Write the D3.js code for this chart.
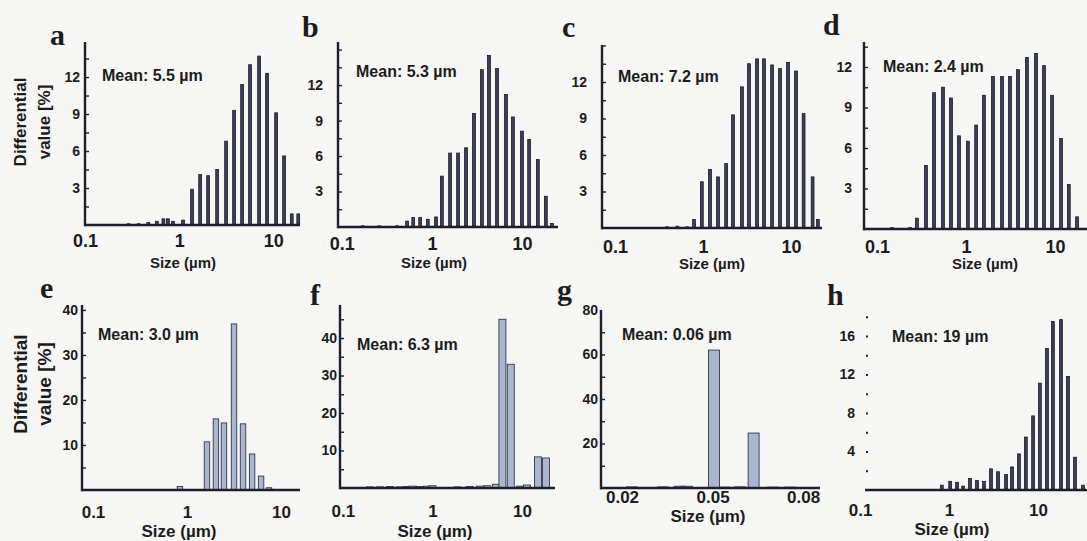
<!DOCTYPE html>
<html><head><meta charset="utf-8">
<script src="https://cdn.jsdelivr.net/npm/d3@7"></script>
<style>
html,body{margin:0;padding:0;background:#f6f6f5;}
svg{display:block;}
text{font-family:"Liberation Sans",Arial,sans-serif;font-weight:bold;fill:#1c1c1c;}
.letter{font-family:"Liberation Serif","Times New Roman",serif;font-weight:bold;}
</style></head><body>
<svg id="chart" width="1087" height="541"></svg>
<script>
// ---------- data ----------
const panelNames = ["a","b","c","d","e","f","g","h"];
const meanLabels = ["Mean: 5.5 µm","Mean: 5.3 µm","Mean: 7.2 µm","Mean: 2.4 µm",
                    "Mean: 3.0 µm","Mean: 6.3 µm","Mean: 0.06 µm","Mean: 19 µm"];
const yLabelLines = ["Differential","value [%]"];
const xLabel = "Size (µm)";

const aSizes  = [0.29,0.37,0.47,0.58,0.68,0.76,0.86,1.10,1.37,1.67,2.03,2.53,3.15,3.83,4.66,5.66,7.06,8.58,10.7,13.0,15.7,18.4];
const aValues = [0.1,0.1,0.2,0.3,0.5,0.5,0.3,0.4,2.9,4.1,4.0,4.5,6.8,9.3,11.4,13.0,13.7,12.3,9.1,5.6,0.9,0.9];

const bSizes  = [0.17,0.26,0.41,0.53,0.62,0.74,0.90,1.11,1.29,1.59,1.95,2.39,2.93,3.59,4.30,5.28,6.64,7.93,9.99,12.0,15.0,18.4,21.5];
const bValues = [0.1,0.1,0.1,0.5,0.8,0.8,0.65,0.85,4.3,6.25,6.25,6.7,9.6,13.3,14.5,13.4,11.2,9.3,8.1,7.4,5.7,2.6,0.3];

const cSizes  = [0.39,0.51,0.66,0.79,0.97,1.20,1.48,1.83,2.19,2.77,3.33,4.11,4.93,6.09,7.50,9.24,11.4,13.9,17.6,20.2];
const cValues = [0.1,0.15,0.1,0.7,3.8,4.8,4.2,5.3,9.3,11.6,13.5,13.9,13.9,13.4,13.1,13.6,12.9,9.4,4.2,0.7];

const dSizes  = [0.147,0.235,0.281,0.355,0.437,0.551,0.678,0.834,1.05,1.30,1.59,2.01,2.54,3.12,3.84,4.84,6.12,7.53,9.27,11.7,14.3,17.7];
const dValues = [0.1,0.1,0.8,4.7,10.1,10.5,9.7,6.9,6.5,7.7,9.9,11.3,11.3,11.3,11.8,12.7,13.0,12.1,9.9,6.7,3.3,0.9];

const eSizes  = [0.84,1.63,2.03,2.47,3.16,3.94,4.92,6.13,7.45];
const eValues = [0.8,10.7,15.8,14.9,36.9,14.7,8.0,3.1,0.5];

const fSizes  = [0.20,0.26,0.335,0.43,0.52,0.60,0.72,0.87,1.0,1.9,2.6,3.4,4.06,5.1,6.05,7.5,9.5,11.4,15.1,18.6];
const fValues = [0.3,0.3,0.4,0.3,0.4,0.5,0.4,0.5,0.6,0.3,0.4,0.5,0.6,1.0,45,33,0.5,0.8,8.3,8.0];

const gSizes  = [0.0233,0.0336,0.0392,0.0415,0.0505,0.054,0.059,0.0636,0.070,0.0757];
const gValues = [0.5,0.5,0.8,0.8,62,0.4,0.5,24.7,0.4,0.4];

const hSizes  = [0.83,1.03,1.23,1.44,1.72,2.06,2.47,2.96,3.55,4.37,5.1,6.1,7.3,8.8,10.5,12.6,14.7,18.1,21.7,26.0,32.0];
const hValues = [0.5,0.9,0.8,0.4,1.2,1.0,0.9,2.2,1.9,1.6,2.4,3.75,5.5,7.7,11.1,14.7,17.5,17.7,11.8,3.4,0.5];

const xTicksLog = [0.1,1,10];
const xTicksG   = [0.02,0.05,0.08];
const yTicks3   = [3,6,9,12];
const yTicks10  = [10,20,30,40];
const yTicksG   = [20,40,60,80];
const yTicksH   = [4,8,12,16];

// ---------- layout (pixels / styles only) ----------
const DARK = {fill:"#3d4058", stroke:"#191a26"};
const LIGHT = {fill:"#aab6ce", stroke:"#23253a"};
const panels = [
 {name:0, sizes:aSizes, values:aValues, xTicks:xTicksLog, yTicks:yTicks3, minor:1.5,
  left:85, right:300, top:42, bottom:225, xDom:[0.1,19.2], yMax:14.84, barW:2.8, style:DARK,
  xFont:18, xPad:9, yPad:5, letter:[50,45], mean:[102,81], size:[183,268,15], ylab:[20,44,122], ylabSize:17, axisLine:true},
 {name:1, sizes:bSizes, values:bValues, xTicks:xTicksLog, yTicks:yTicks3, minor:1.5,
  left:338, right:558, top:42, bottom:227, xDom:[0.0906,25.1], yMax:15.64, barW:2.8, style:DARK,
  xFont:18, xPad:10, yPad:15, letter:[302,37], mean:[356,77], size:[434,268,15], axisLine:true},
 {name:2, sizes:cSizes, values:cValues, xTicks:xTicksLog, yTicks:yTicks3, minor:1.5,
  left:602, right:822, top:45, bottom:228, xDom:[0.0711,22.5], yMax:15.04, barW:2.8, style:DARK,
  xFont:18, xPad:12, yPad:15, letter:[562,37], mean:[618,82], size:[712,269,15], axisLine:true},
 {name:3, sizes:dSizes, values:dValues, xTicks:xTicksLog, yTicks:yTicks3, minor:1.5,
  left:864, right:1087, top:42, bottom:229, xDom:[0.0714,22.9], yMax:13.85, barW:2.8, style:DARK,
  xFont:18, xPad:11, yPad:12, letter:[823,35], mean:[883,72], size:[985,269,15], axisLine:true},
 {name:4, sizes:eSizes, values:eValues, xTicks:xTicksLog, yTicks:yTicks10, minor:5,
  left:82, right:300, top:305, bottom:490, xDom:[0.0764,15.9], yMax:41.1, barW:5.5, style:LIGHT,
  xFont:17, xPad:16, yPad:4, letter:[40,298], mean:[98,340], size:[179,537,17], ylab:[20,44,384], ylabSize:19, axisLine:true},
 {name:5, sizes:fSizes, values:fValues, xTicks:xTicksLog, yTicks:yTicks10, minor:5,
  left:340, right:555, top:305, bottom:488, xDom:[0.0928,23.4], yMax:48.8, barW:7, style:LIGHT,
  xFont:17, xPad:17, yPad:3, letter:[310,305], mean:[357,350], size:[435,537,17], axisLine:true},
 {name:6, sizes:gSizes, values:gValues, xTicks:xTicksG, yTicks:yTicksG, minor:10, linear:true,
  left:601, right:820, top:310, bottom:488, xDom:[0.01304,0.0856], yMax:80, barW:11, style:LIGHT,
  xFont:17, xPad:3, yPad:3, letter:[557,300], mean:[622,340], size:[708,522,17], axisLine:true},
 {name:7, sizes:hSizes, values:hValues, xTicks:xTicksLog, yTicks:yTicksH, minor:2,
  left:865, right:1087, top:300, bottom:490, xDom:[0.1137,35.5], yMax:19.74, barW:2.8, style:DARK,
  xFont:17, xPad:14, yPad:10, letter:[827,305], mean:[892,342], size:[952,535,17], axisLine:false}
];

const svg = d3.select("#chart");
svg.append("rect").attr("width",1087).attr("height",541).attr("fill","#f6f6f5");

panels.forEach(p => {
  const g = svg.append("g");
  const x = p.linear
    ? d3.scaleLinear().domain(p.xDom).range([p.left,p.right])
    : d3.scaleLog().domain(p.xDom).range([p.left,p.right]);
  const y = d3.scaleLinear().domain([0,p.yMax]).range([p.bottom,p.top]);

  // bars
  const data = p.sizes.map((s,i)=>({s, v:p.values[i]}));
  g.selectAll("rect.bar").data(data).join("rect")
    .attr("class","bar")
    .attr("x", d => x(d.s) - p.barW/2)
    .attr("width", p.barW)
    .attr("y", d => y(d.v))
    .attr("height", d => y(0) - y(d.v))
    .attr("fill", p.style.fill)
    .attr("stroke", p.style.stroke)
    .attr("stroke-width", 0.8);

  // x baseline
  g.append("line").attr("x1",p.left).attr("x2",p.right)
    .attr("y1",y(0)).attr("y2",y(0))
    .attr("stroke","#1e1f2a").attr("stroke-width",2.6);
  // y axis line
  if (p.axisLine) {
    g.append("line").attr("x1",p.left).attr("x2",p.left)
      .attr("y1",p.top).attr("y2",y(0)+1.3)
      .attr("stroke","#1e1f2a").attr("stroke-width",2.4);
  }
  // inward minor ticks
  const minorVals = d3.range(p.minor, p.yMax, p.minor);
  const minorAx = g.append("g").attr("transform",`translate(${p.left+1},0)`)
    .call(d3.axisRight(y).tickValues(minorVals).tickSize(p.axisLine?3:2).tickFormat(""));
  minorAx.select(".domain").remove();
  minorAx.selectAll("line").attr("stroke","#1e1f2a").attr("stroke-width",p.axisLine?1.4:2);

  // y tick labels
  const yAx = g.append("g").attr("transform",`translate(${p.left},0)`)
    .call(d3.axisLeft(y).tickValues(p.yTicks).tickSize(0).tickPadding(p.yPad));
  yAx.select(".domain").remove();
  yAx.selectAll("text").style("font-size","14px").attr("font-family","Liberation Sans, Arial, sans-serif")
     .attr("font-weight","bold").attr("fill","#1c1c1c");

  // x tick labels
  const xFmt = p.linear ? d3.format(".2f") : (d => d3.format("~g")(d));
  const xAx = g.append("g").attr("transform",`translate(0,${p.bottom})`)
    .call(d3.axisBottom(x).tickValues(p.xTicks).tickSize(0).tickPadding(p.xPad).tickFormat(xFmt));
  xAx.select(".domain").remove();
  xAx.selectAll("text").style("font-size",p.xFont+"px").attr("font-family","Liberation Sans, Arial, sans-serif")
     .attr("font-weight","bold").attr("fill","#1c1c1c");

  // x label
  g.append("text").attr("x",p.size[0]).attr("y",p.size[1]).attr("text-anchor","middle")
    .style("font-size",p.size[2]+"px").text(xLabel);

  // panel letter
  g.append("text").attr("class","letter").attr("x",p.letter[0]).attr("y",p.letter[1])
    .style("font-size","30px").text(panelNames[p.name]);

  // mean label
  g.append("text").attr("x",p.mean[0]).attr("y",p.mean[1])
    .style("font-size","16px").text(meanLabels[p.name]);

  // y label (first column only)
  if (p.ylab) {
    yLabelLines.forEach((t,i) => {
      g.append("text")
        .attr("transform",`translate(${p.ylab[i]},${p.ylab[2]}) rotate(-90)`)
        .attr("text-anchor","middle").attr("dy","0.36em")
        .style("font-size",p.ylabSize+"px").text(t);
    });
  }
});
</script>
</body></html>
